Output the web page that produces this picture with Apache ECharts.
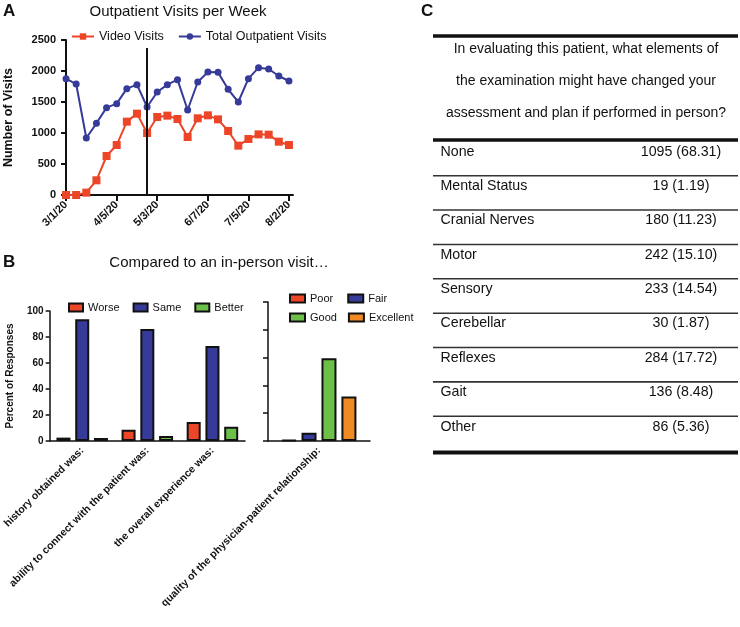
<!DOCTYPE html>
<html>
<head>
<meta charset="utf-8">
<script src="https://cdn.jsdelivr.net/npm/echarts/dist/echarts.min.js"></script>
<style>
html,body{margin:0;padding:0;background:#fff;}
#chart{width:740px;height:627px;}
</style>
</head>
<body>
<div id="chart"></div>
<script>
// ---- Panel A data ----
const weeks = ['3/1/20','3/8/20','3/15/20','3/22/20','3/29/20','4/5/20','4/12/20','4/19/20','4/26/20','5/3/20','5/10/20','5/17/20','5/24/20','5/31/20','6/7/20','6/14/20','6/21/20','6/28/20','7/5/20','7/12/20','7/19/20','7/26/20','8/2/20'];
const weekTickLabels = ['3/1/20','4/5/20','5/3/20','6/7/20','7/5/20','8/2/20'];
const videoVisits = [0,0,38,237,629,806,1183,1312,1000,1258,1280,1226,935,1237,1285,1220,1032,796,903,978,973,860,806];
const totalVisits = [1876,1790,919,1156,1409,1473,1715,1780,1419,1661,1780,1860,1371,1823,1984,1978,1704,1500,1876,2054,2032,1919,1839];
const cutoffWeek = '4/26/20';
const cutoffTop = 2370;

// ---- Panel B data ----
const compareCats = ['history obtained was:','ability to connect with the patient was:','the overall experience was:'];
const worse = [2.6, 8.7, 14.7];
const same = [93.6, 86.1, 73.0];
const better = [2.3, 3.9, 11.0];
const relationCats = ['quality of the physician-patient relationship:'];
const poor = [0.7];
const fair = [6.0];
const good = [59.5];
const excellent = [32.0];

// ---- Panel C data ----
const tableQuestion = ['In evaluating this patient, what elements of','the examination might have changed your','assessment and plan if performed in person?'];
const examElements = ['None','Mental Status','Cranial Nerves','Motor','Sensory','Cerebellar','Reflexes','Gait','Other'];
const examCounts = [1095,19,180,242,233,30,284,136,86];
const examPercents = ['68.31','1.19','11.23','15.10','14.54','1.87','17.72','8.48','5.36'];

const FONT = '"Liberation Sans", Arial, Helvetica, sans-serif';
const RED = '#ec4527', BLUE = '#363a98', GREEN = '#6cc04a', ORANGE = '#f08a24', INK = '#111';

const chart = echarts.init(document.getElementById('chart'), null, {renderer:'canvas'});

const tickIdx = weekTickLabels.map(w => weeks.indexOf(w));
const cutIdx = weeks.indexOf(cutoffWeek);

// table graphics
const tL = 433, tR = 738, tW = tR - tL;
const g = [];
g.push({type:'text', x:3, y:3, style:{text:'A', font:'bold 17px '+FONT, fill:INK}});
g.push({type:'text', x:3, y:254, style:{text:'B', font:'bold 17px '+FONT, fill:INK}});
g.push({type:'text', x:421, y:3, style:{text:'C', font:'bold 17px '+FONT, fill:INK}});
g.push({type:'text', x:178, y:12, style:{text:'Outpatient Visits per Week', font:'15px '+FONT, fill:INK, textAlign:'center', textVerticalAlign:'middle'}});
g.push({type:'text', x:219, y:263, style:{text:'Compared to an in-person visit\u2026', font:'15px '+FONT, fill:INK, textAlign:'center', textVerticalAlign:'middle'}});
g.push({type:'rect', shape:{x:tL, y:34.2, width:tW, height:3.6}, style:{fill:INK}});
tableQuestion.forEach((t,i)=>{
  g.push({type:'text', x:586, y:49.3 + i*32, style:{text:t, font:'14px '+FONT, fill:INK, textAlign:'center', textVerticalAlign:'middle'}});
});
g.push({type:'rect', shape:{x:tL, y:138.2, width:tW, height:3.6}, style:{fill:INK}});
examElements.forEach((e,i)=>{
  const y = 151.7 + i*34.37;
  g.push({type:'text', x:440.5, y:y, style:{text:e, font:'14.2px '+FONT, fill:INK, textVerticalAlign:'middle'}});
  g.push({type:'text', x:681, y:y, style:{text:examCounts[i]+' ('+examPercents[i]+')', font:'14.2px '+FONT, fill:INK, textAlign:'center', textVerticalAlign:'middle'}});
  if (i < examElements.length-1) {
    g.push({type:'rect', shape:{x:tL, y:175.7 + i*34.37 - 0.8, width:tW, height:1.6}, style:{fill:'#333'}});
  }
});
g.push({type:'rect', shape:{x:tL, y:450.5, width:tW, height:4}, style:{fill:INK}});

const barBorder = {borderColor:INK, borderWidth:2};
const axisTxt = {color:INK, fontFamily:FONT, fontWeight:'bold'};

const option = {
  animation:false,
  backgroundColor:'#fff',
  textStyle:{fontFamily:FONT},
  graphic:g,
  legend:[
    {left:66, top:25, itemWidth:22, itemHeight:8, itemGap:14, data:['Video Visits','Total Outpatient Visits'],
     textStyle:{fontSize:12.5, color:INK, fontFamily:FONT}},
    {left:63, top:297, itemWidth:14, itemHeight:8, itemGap:13, icon:'rect', data:['Worse','Same','Better'],
     itemStyle:barBorder, textStyle:{fontSize:11, color:INK, fontFamily:FONT}},
    {left:284, top:288, itemWidth:15, itemHeight:8, itemGap:14, icon:'rect', data:['Poor','Fair'],
     itemStyle:barBorder, textStyle:{fontSize:11, color:INK, fontFamily:FONT}},
    {left:284, top:307, itemWidth:15, itemHeight:8, itemGap:11, icon:'rect', data:['Good','Excellent'],
     itemStyle:barBorder, textStyle:{fontSize:11, color:INK, fontFamily:FONT}}
  ],
  grid:[
    {left:63, top:40, width:230, height:155},
    {left:49, top:311, width:196, height:130},
    {left:268, top:302, width:102, height:139}
  ],
  xAxis:[
    {gridIndex:0, type:'value', min:-0.3, max:22.4,
     axisLine:{lineStyle:{color:INK, width:2}},
     axisTick:{customValues:tickIdx, length:6, lineStyle:{color:INK, width:2}},
     axisLabel:{customValues:tickIdx, rotate:45, fontSize:11, margin:8, formatter:v=>weeks[Math.round(v)], ...axisTxt},
     splitLine:{show:false}},
    {gridIndex:1, type:'category', data:compareCats,
     axisLine:{lineStyle:{color:INK, width:1.5}},
     axisTick:{alignWithLabel:true, length:5, lineStyle:{color:INK, width:1.5}},
     axisLabel:{rotate:45, fontSize:10.5, margin:8, interval:0, ...axisTxt}},
    {gridIndex:2, type:'category', data:relationCats,
     axisLine:{lineStyle:{color:INK, width:1.5}},
     axisTick:{alignWithLabel:true, length:5, lineStyle:{color:INK, width:1.5}},
     axisLabel:{rotate:45, fontSize:10.5, margin:8, interval:0, ...axisTxt}}
  ],
  yAxis:[
    {gridIndex:0, type:'value', min:0, max:2500, interval:500,
     name:'Number of Visits', nameLocation:'middle', nameGap:48,
     nameTextStyle:{fontSize:12.5, fontWeight:'bold', color:INK, fontFamily:FONT},
     axisLine:{show:true, lineStyle:{color:INK, width:2}},
     axisTick:{show:true, length:5, lineStyle:{color:INK, width:2}},
     axisLabel:{fontSize:11, margin:7, formatter:v=>String(v), ...axisTxt},
     splitLine:{show:false}},
    {gridIndex:1, type:'value', min:0, max:100, interval:20,
     name:'Percent of Responses', nameLocation:'middle', nameGap:34,
     nameTextStyle:{fontSize:10, fontWeight:'bold', color:INK, fontFamily:FONT},
     axisLine:{show:true, lineStyle:{color:INK, width:1.5}},
     axisTick:{show:true, length:4, lineStyle:{color:INK, width:1.5}},
     axisLabel:{fontSize:10, margin:6, ...axisTxt},
     splitLine:{show:false}},
    {gridIndex:2, type:'value', min:0, max:100, interval:20,
     axisLine:{show:true, lineStyle:{color:INK, width:1.5}},
     axisTick:{show:true, length:5, lineStyle:{color:INK, width:1.5}},
     axisLabel:{show:false},
     splitLine:{show:false}}
  ],
  series:[
    {name:'Video Visits', type:'line', xAxisIndex:0, yAxisIndex:0,
     data:videoVisits.map((v,i)=>[i,v]), symbol:'rect', symbolSize:8,
     itemStyle:{color:RED}, lineStyle:{color:RED, width:2}, z:3,
     markLine:{silent:true, symbol:'none', label:{show:false},
       lineStyle:{color:INK, width:2, type:'solid'},
       data:[[{coord:[cutIdx,0]},{coord:[cutIdx,cutoffTop]}]]}},
    {name:'Total Outpatient Visits', type:'line', xAxisIndex:0, yAxisIndex:0,
     data:totalVisits.map((v,i)=>[i,v]), symbol:'circle', symbolSize:7,
     itemStyle:{color:BLUE}, lineStyle:{color:BLUE, width:2}, z:3},
    {name:'Worse', type:'bar', xAxisIndex:1, yAxisIndex:1, data:worse, barWidth:14, barGap:'34%', itemStyle:{color:RED, ...barBorder}},
    {name:'Same', type:'bar', xAxisIndex:1, yAxisIndex:1, data:same, barWidth:14, barGap:'34%', itemStyle:{color:BLUE, ...barBorder}},
    {name:'Better', type:'bar', xAxisIndex:1, yAxisIndex:1, data:better, barWidth:14, barGap:'34%', itemStyle:{color:GREEN, ...barBorder}},
    {name:'Poor', type:'bar', xAxisIndex:2, yAxisIndex:2, data:poor, barWidth:15, barGap:'33%', itemStyle:{color:RED, ...barBorder}},
    {name:'Fair', type:'bar', xAxisIndex:2, yAxisIndex:2, data:fair, barWidth:15, barGap:'33%', itemStyle:{color:BLUE, ...barBorder}},
    {name:'Good', type:'bar', xAxisIndex:2, yAxisIndex:2, data:good, barWidth:15, barGap:'33%', itemStyle:{color:GREEN, ...barBorder}},
    {name:'Excellent', type:'bar', xAxisIndex:2, yAxisIndex:2, data:excellent, barWidth:15, barGap:'33%', itemStyle:{color:ORANGE, ...barBorder}}
  ]
};
chart.setOption(option);
</script>
</body>
</html>
